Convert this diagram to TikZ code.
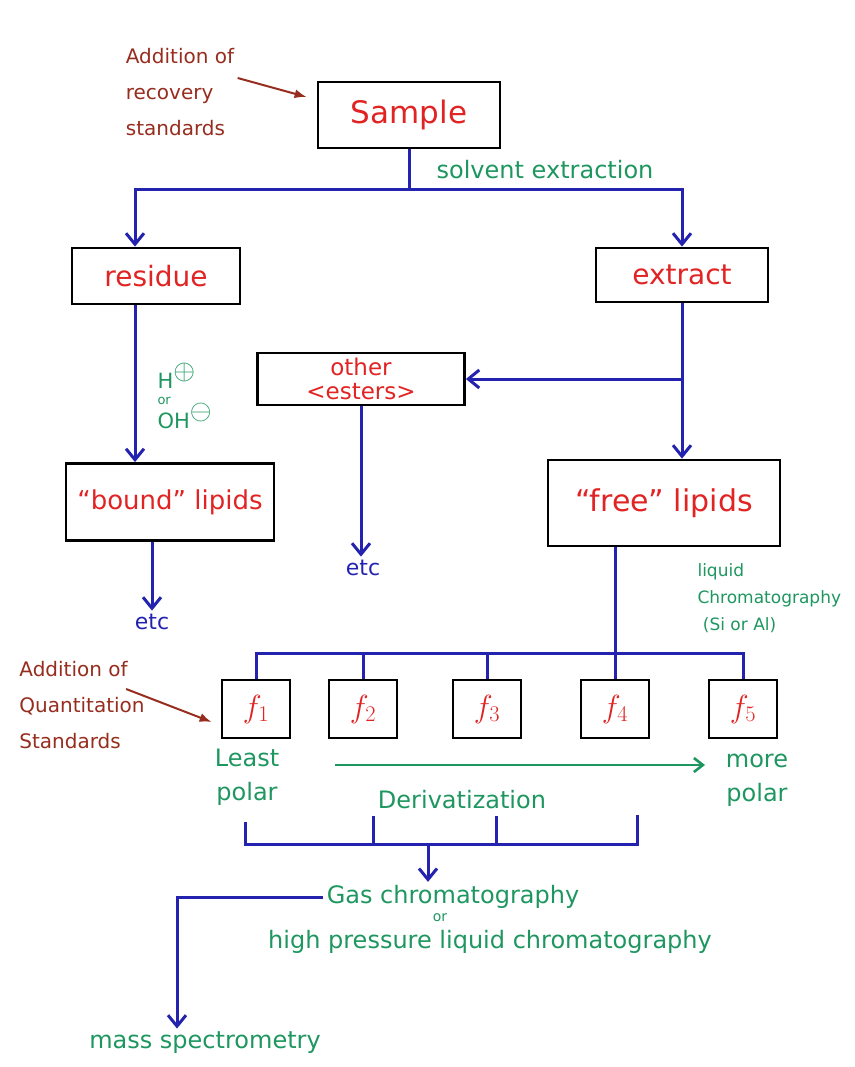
\documentclass[tikz,border=0pt]{standalone}
\usepackage{fix-cm}
\usepackage{fontspec}
\setmainfont{DejaVu Sans}
\usetikzlibrary{arrows.meta}
\definecolor{samplered}{RGB}{225,35,35}
\definecolor{stepgreen}{RGB}{30,150,95}
\definecolor{flowblue}{RGB}{35,35,175}
\definecolor{notebrown}{RGB}{150,45,30}

\begin{document}
\begin{tikzpicture}[x=1pt,y=-1pt,>={Straight Barb[length=11pt,width=18pt]},
box/.style={draw=black,line width=2.8pt,text=samplered,inner sep=0pt,
  font=\fontsize{28}{32}\selectfont},
link/.style={flowblue,line width=3pt},
flow/.style={link,->},
lbl/.style={text=stepgreen,align=center,font=\fontsize{24}{34}\selectfont},
note/.style={text=notebrown,align=left,font=\fontsize{20}{36}\selectfont},
notearrow/.style={notebrown,line width=2pt,-{Latex[length=12pt,width=9pt]}},
trend/.style={stepgreen,line width=2.6pt,-{Straight Barb[length=9pt,width=14pt]}}]
\useasboundingbox (0,0) rectangle (854,1067);
% boxes
\node[box,minimum width=182,minimum height=66,font=\fontsize{31}{34}\selectfont] (sample) at (409,115) {Sample};
\node[box,minimum width=168,minimum height=56] (residue) at (156,276) {residue};
\node[box,minimum width=172,minimum height=54] (extract) at (682,275) {extract};
\node[box,minimum width=207,minimum height=52,align=center,font=\fontsize{23}{24}\selectfont] (other) at (361,379) {other\\<esters>};
\node[box,minimum width=208,minimum height=77,font=\fontsize{26}{30}\selectfont] (bound) at (170,502) {“bound” lipids};
\node[box,minimum width=232,minimum height=86,font=\fontsize{30}{34}\selectfont] (free) at (664,503) {“free” lipids};
\foreach \i/\x in {1/256,2/363,3/487,4/615,5/743}
  \node[box,minimum width=68,minimum height=58,font=\fontsize{32}{34}\selectfont] (f\i) at (\x,709) {$f_{\i}$};
% labels
\node[note] (recovery) at (180,92) {Addition of\\recovery\\standards};
\node[note] (quant) at (82,705) {Addition of\\Quantitation\\Standards};
\node[lbl] (solvent) at (545,170) {solvent extraction};
\node[lbl,align=left,anchor=west,font=\fontsize{21}{24}\selectfont] (acid) at (154,396)
  {H\raisebox{0.4em}{\fontsize{28}{28}\selectfont$\oplus$}\\[-8pt]{\fontsize{13}{13}\selectfont or}\\[-2pt]OH\raisebox{0.4em}{\fontsize{28}{28}\selectfont$\ominus$}};
\node[lbl,align=left,anchor=west,font=\fontsize{17}{27}\selectfont] (lc) at (694,598)
  {liquid\\Chromatography\\\ (Si or Al)};
\node[lbl] (least) at (247,777) {Least\\polar};
\node[lbl] (more) at (757,780) {more\\polar};
\node[lbl] (deriv) at (462,800) {Derivatization};
\node[lbl] (gc) at (453,897) {Gas chromatography};
\node[lbl,font=\fontsize{14}{14}\selectfont] (or) at (440,918) {or};
\node[lbl] (hplc) at (490,942) {high pressure liquid chromatography};
\node[lbl] (ms) at (205,1043) {mass spectrometry};
\node[text=flowblue,font=\fontsize{22}{24}\selectfont] (etc1) at (152,622) {etc};
\node[text=flowblue,font=\fontsize{22}{24}\selectfont] (etc2) at (363,568) {etc};
% connectors
\coordinate (split) at (sample.south |- 0,190);
\draw[link] (sample.south) -- (split);
\draw[flow] (split) -| ([xshift=-21pt]residue.north);
\draw[flow] (split) -| (extract.north);
\draw[flow] ([xshift=-21pt]residue.south) -- ([xshift=-21pt]residue.south |- bound.north);
\draw[flow] (extract.south) -- (extract.south |- free.north);
\draw[flow] (extract.south |- other.east) -- (other.east);
\draw[flow] (other.south) -- (other.south |- etc2.north);
\draw[flow] (etc1.north |- bound.south) -- (etc1.north);
\draw[link] (f4.north |- free.south) -- (f4.north);
\draw[link] (f1.north) -- ++(0,-25) -| (f5.north);
\foreach \f in {f2,f3} \draw[link] (\f.north) -- ++(0,-25);
\draw[notearrow] ([yshift=14pt]recovery.east) -- ([shift={(-10,-18)}]sample.west);
\draw[notearrow] ([shift={(-22,-16)}]quant.east) -- ([shift={(-9,13)}]f1.west);
% polarity and derivatization
\coordinate (lesspolar) at (335,765);
\coordinate (morepolar) at (705,765);
\draw[trend] (lesspolar) -- (morepolar);
\coordinate (collect) at (428,844);
\draw[link] (245,822) -- (245,844) -- (637,844) -- (637,815);
\foreach \x in {373,496} \draw[link] (\x,844) -- (\x,816);
\draw[flow] (collect) -- (collect |- gc.north);
\draw[flow] (gc.west) -| ([xshift=-28pt]ms.north);
\end{tikzpicture}
\end{document}
